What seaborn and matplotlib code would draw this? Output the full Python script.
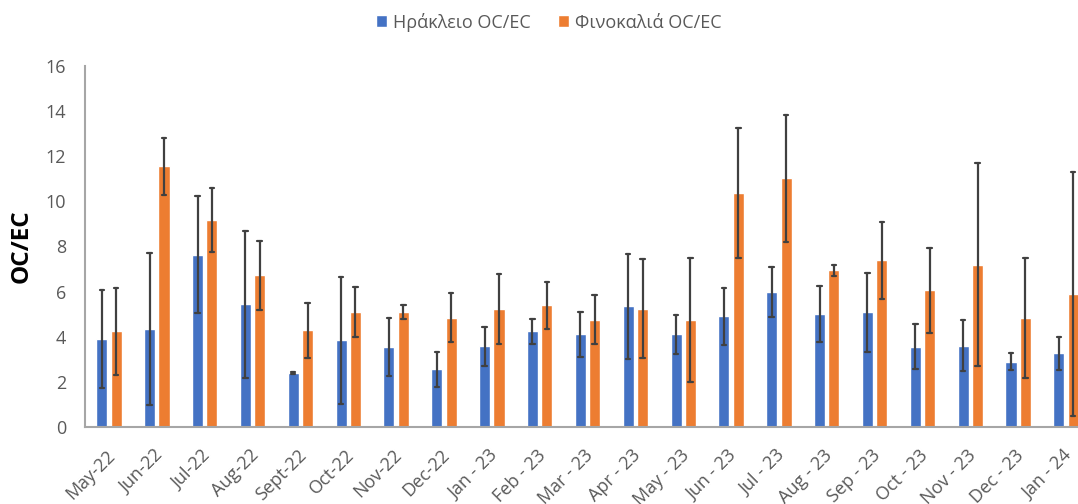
import pandas as pd
import seaborn as sns
import matplotlib.pyplot as plt
import matplotlib.transforms as mtransforms
from matplotlib.ticker import MultipleLocator, FixedLocator

# monthly OC/EC ratios, mean and half-width of the error bar
months = ["May-22", "Jun-22", "Jul-22", "Aug-22", "Sept-22", "Oct-22", "Nov-22",
          "Dec-22", "Jan - 23", "Feb - 23", "Mar - 23", "Apr - 23", "May - 23",
          "Jun - 23", "Jul - 23", "Aug - 23", "Sep - 23", "Oct - 23", "Nov - 23",
          "Dec - 23", "Jan - 24"]
heraklion = [3.90, 4.35, 7.63, 5.44, 2.38, 3.85, 3.55, 2.56, 3.57, 4.25, 4.10,
             5.34, 4.10, 4.90, 5.99, 5.00, 5.09, 3.55, 3.61, 2.90, 3.26]
heraklion_err = [2.17, 3.36, 2.59, 3.25, 0.04, 2.81, 1.30, 0.77, 0.87, 0.55, 1.00,
                 2.32, 0.88, 1.27, 1.11, 1.23, 1.75, 1.00, 1.12, 0.37, 0.72]
finokalia = [4.25, 11.55, 9.17, 6.73, 4.29, 5.09, 5.09, 4.85, 5.21, 5.39, 4.75,
             5.25, 4.75, 10.37, 11.03, 6.94, 7.38, 6.05, 7.19, 4.81, 5.89]
finokalia_err = [1.93, 1.26, 1.40, 1.53, 1.22, 1.12, 0.30, 1.10, 1.55, 1.05, 1.08,
                 2.18, 2.76, 2.88, 2.81, 0.23, 1.70, 1.87, 4.50, 2.66, 5.39]
series_names = ["Ηράκλειο OC/EC", "Φινοκαλιά OC/EC"]
colors = ["#4472C4", "#ED7D31"]

# long-form table: two rows per bar (mean - err, mean + err) so that the
# mean is the bar height and the min/max interval is the error bar
rows = []
for name, vals, errs in zip(series_names, [heraklion, finokalia], [heraklion_err, finokalia_err]):
    for m, v, e in zip(months, vals, errs):
        rows.append({"month": m, "series": name, "value": v - e})
        rows.append({"month": m, "series": name, "value": v + e})
df = pd.DataFrame(rows)

sns.set_theme(style="white")
plt.rcParams['font.family'] = ['Open Sans', 'DejaVu Sans']

grey_txt = "#595959"
axis_col = "#A6A6A6"

fig = plt.figure(figsize=(10.78, 5.04), dpi=100)
# the plot area runs a little past the right edge, as in the original
ax = fig.add_axes([0.0789, 0.1528, 0.9322, 0.7163])

sns.barplot(data=df, x="month", y="value", hue="series", order=months,
            hue_order=series_names, palette=colors, saturation=1,
            errorbar=("pi", 100), capsize=0.19, width=0.6, gap=0.23,
            err_kws={"color": "#404040", "linewidth": 1.6}, ax=ax)

ax.set_ylim(0, 16)
ax.set_xlim(-0.5, len(months) - 0.5)
ax.yaxis.set_major_locator(MultipleLocator(2))
ax.yaxis.set_minor_locator(MultipleLocator(0.4))
ax.xaxis.set_minor_locator(FixedLocator([i - 0.5 for i in range(len(months) + 1)]))

for side in ["top", "right"]:
    ax.spines[side].set_visible(False)
for side in ["left", "bottom"]:
    ax.spines[side].set_color(axis_col)
    ax.spines[side].set_linewidth(1.5)

ax.tick_params(axis="both", which="both", direction="out", color=axis_col,
               width=1.5, labelcolor=grey_txt, labelsize=13)
ax.tick_params(axis="y", which="major", length=5.5, pad=8)
ax.tick_params(axis="y", which="minor", length=3.5)
ax.tick_params(axis="x", which="both", length=5, pad=13.5)

ax.set_xticks(range(len(months)))
ax.set_xticklabels(months, rotation=45, ha="right", va="center",
                   rotation_mode="anchor")
shift = mtransforms.ScaledTranslation(3 / 100, 0, fig.dpi_scale_trans)
for lbl in ax.get_xticklabels():
    lbl.set_transform(lbl.get_transform() + shift)

ax.set_xlabel("")
ax.set_ylabel("OC/EC", fontsize=17.5, fontweight="bold", color="black")
ax.yaxis.set_label_coords(-0.0507, 0.5)

sns.move_legend(ax, "upper center", bbox_to_anchor=(0.509, 1.0),
                bbox_transform=fig.transFigure, ncol=2, title=None,
                frameon=False, fontsize=13, labelcolor=grey_txt,
                handlelength=0.61, handleheight=0.61, handletextpad=0.33,
                columnspacing=1.55, borderaxespad=0.3)

fig.savefig("out.png", dpi=100)
